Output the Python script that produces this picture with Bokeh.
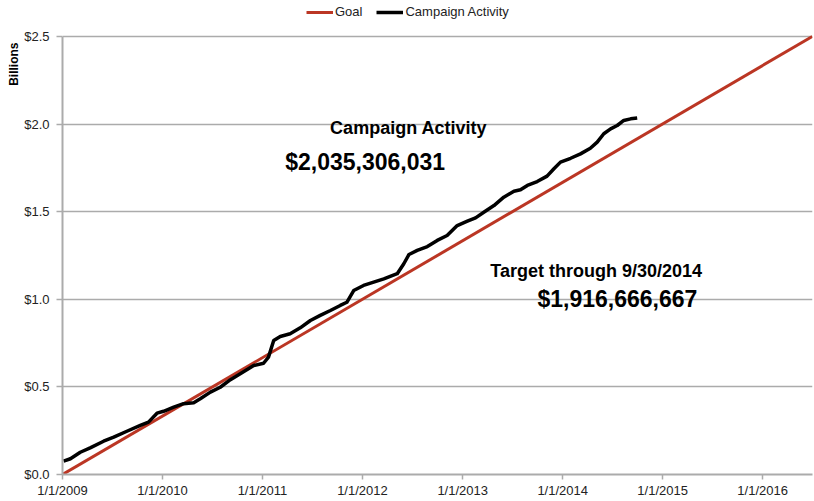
import pandas as pd
from bokeh.plotting import figure
from bokeh.models import (FixedTicker, NumeralTickFormatter, Label, Legend,
                          LegendItem, Range1d, Title)
from bokeh.embed import file_html
from bokeh.resources import INLINE

# ---------------- data ----------------
activity_dates = [
    "2009-01-05", "2009-01-30", "2009-03-07", "2009-04-12", "2009-05-31",
    "2009-07-07", "2009-08-24", "2009-10-12", "2009-11-11", "2009-12-12",
    "2010-01-05", "2010-02-11", "2010-03-19", "2010-04-25", "2010-05-19",
    "2010-06-25", "2010-07-31", "2010-09-06", "2010-10-12", "2010-11-30",
    "2011-01-05", "2011-01-23", "2011-02-11", "2011-03-07", "2011-04-12",
    "2011-05-19", "2011-06-25", "2011-07-31", "2011-09-06", "2011-10-12",
    "2011-11-05", "2011-11-30", "2012-01-05", "2012-02-11", "2012-03-19",
    "2012-05-07", "2012-05-31", "2012-06-19", "2012-07-19", "2012-08-25",
    "2012-09-30", "2012-11-05", "2012-12-12", "2013-01-18", "2013-02-17",
    "2013-03-19", "2013-04-25", "2013-05-31", "2013-07-07", "2013-07-31",
    "2013-08-25", "2013-09-30", "2013-11-05", "2013-11-30", "2013-12-24",
    "2014-01-30", "2014-03-07", "2014-04-12", "2014-05-07", "2014-05-31",
    "2014-06-25", "2014-07-19", "2014-08-12", "2014-09-06", "2014-09-30",
]
activity_values = [
    0.076, 0.090, 0.127, 0.152, 0.190,
    0.213, 0.247, 0.280, 0.299, 0.350,
    0.361, 0.384, 0.404, 0.410, 0.432,
    0.470, 0.498, 0.541, 0.575, 0.622,
    0.635, 0.670, 0.765, 0.788, 0.803,
    0.837, 0.879, 0.908, 0.936, 0.965,
    0.983, 1.050, 1.079, 1.098, 1.117,
    1.146, 1.203, 1.256, 1.279, 1.301,
    1.336, 1.364, 1.421, 1.446, 1.465,
    1.497, 1.535, 1.583, 1.617, 1.625,
    1.650, 1.672, 1.703, 1.745, 1.783,
    1.805, 1.830, 1.862, 1.897, 1.945,
    1.973, 1.992, 2.021, 2.030, 2.035,
]
goal_dates = ["2009-01-01", "2016-06-30"]
goal_values = [0.0, 2.5]

x_tick_dates = ["2009-01-01", "2010-01-01", "2011-01-01", "2012-01-01",
                "2013-01-01", "2014-01-01", "2015-01-01", "2016-01-01"]
x_tick_labels = ["1/1/2009", "1/1/2010", "1/1/2011", "1/1/2012",
                 "1/1/2013", "1/1/2014", "1/1/2015", "1/1/2016"]
y_ticks = [0.0, 0.5, 1.0, 1.5, 2.0, 2.5]

legend_labels = ["Goal", "Campaign Activity"]
y_title = "Billions"
activity_title = "Campaign Activity"
activity_total = "$2,035,306,031"
target_title = "Target through 9/30/2014"
target_total = "$1,916,666,667"


def ms(d):
    return pd.Timestamp(d).value / 1e6


FONT = "Liberation Sans"
RED = "#BB3624"
GRID = "#ABABAB"

# frame spans the full height above the x axis; the extra headroom above
# $2.5 holds the legend (axis line and grid stop at $2.5)
p = figure(width=814, height=501, output_backend="svg", toolbar_location=None,
           x_range=Range1d(ms("2009-01-01"), ms("2016-07-01")),
           y_range=Range1d(0, 2.5 * 474 / 438),
           min_border_left=62, min_border_right=2, min_border_top=0,
           min_border_bottom=27)
p.outline_line_color = None
p.background_fill_color = "white"

r_goal = p.line([ms(d) for d in goal_dates], goal_values, line_color=RED,
                line_width=3)
r_act = p.line([ms(d) for d in activity_dates], activity_values,
               line_color="black", line_width=3.5, line_join="round")

# axes
xt = [ms(d) for d in x_tick_dates]
p.xaxis.ticker = FixedTicker(ticks=xt)
p.xaxis.major_label_overrides = {t: l for t, l in zip(xt, x_tick_labels)}
p.yaxis.ticker = FixedTicker(ticks=y_ticks)
p.yaxis.formatter = NumeralTickFormatter(format="$0.0")
p.yaxis.bounds = (y_ticks[0], y_ticks[-1])
for ax in (p.xaxis, p.yaxis):
    ax.axis_label = None
    ax.axis_line_color = GRID
    ax.axis_line_width = 2
    ax.major_tick_line_color = GRID
    ax.major_tick_line_width = 1.5
    ax.major_tick_out = 5
    ax.major_tick_in = 0
    ax.minor_tick_line_color = None
    ax.major_label_text_font = FONT
    ax.major_label_text_font_size = "13px"
    ax.major_label_text_color = "#222222"
    ax.major_label_standoff = 3
p.yaxis.major_tick_out = 6
p.yaxis.major_label_standoff = 7

p.xgrid.grid_line_color = None
p.ygrid.grid_line_color = GRID
p.ygrid.grid_line_width = 1.5

# "Billions" title at the top of the y axis
p.add_layout(Title(text=y_title, align="right", offset=42, standoff=2,
                   text_font=FONT, text_font_size="12px",
                   text_font_style="bold", text_color="black"), "left")

# annotations
ann = [
    (activity_title, "2011-09-05", 1.975, "18px"),
    (activity_total, "2011-03-25", 1.781, "23px"),
    (target_title, "2013-04-12", 1.164, "18px"),
    (target_total, "2013-10-01", 0.999, "23px"),
]
for txt, d, v, fs in ann:
    p.add_layout(Label(x=ms(d), y=v, text=txt, text_font=FONT,
                       text_font_size=fs, text_font_style="bold",
                       text_align="left", text_baseline="middle",
                       text_color="black"))

legend = Legend(items=[LegendItem(label=legend_labels[0], renderers=[r_goal]),
                       LegendItem(label=legend_labels[1], renderers=[r_act])],
                location=(244, 455), orientation="horizontal",
                glyph_width=27, glyph_height=14, label_height=14,
                label_standoff=2, spacing=14, padding=0, margin=0,
                label_text_font=FONT, label_text_font_size="13px",
                label_text_color="#222222",
                border_line_color=None, background_fill_alpha=0)
p.add_layout(legend)

open("out.html", "w").write(file_html(p, INLINE))
